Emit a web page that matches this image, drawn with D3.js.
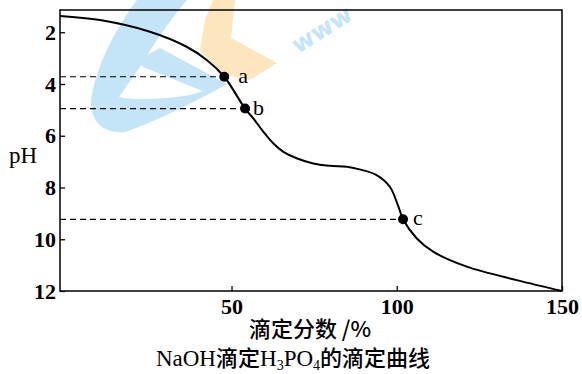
<!DOCTYPE html>
<html>
<head>
<meta charset="utf-8">
<script src="https://cdn.jsdelivr.net/npm/d3@7"></script>
<style>
  body { margin: 0; background: #fff; }
  svg { display: block; }
</style>
</head>
<body>
<div id="chart"></div>
<script>
// titration curve (x = % titrated, y = pH)
const fraction = [-1.9, 10.2, 25.3, 36.4, 42.5, 47.8, 54.1, 56.6, 59.6, 62.6, 65.7, 69.7, 74.7, 79.8, 84.9, 88.4, 93.9, 97.9, 100.5, 101.9, 106.0, 111.0, 121.2, 136.3, 150];
const pH = [1.37, 1.53, 1.98, 2.56, 3.07, 3.72, 4.95, 5.33, 5.84, 6.29, 6.62, 6.87, 7.07, 7.16, 7.20, 7.29, 7.52, 7.97, 8.74, 9.23, 9.96, 10.48, 11.06, 11.58, 12];

// marked points
const markNames = ['a', 'b', 'c'];
const markX = [47.8, 54.1, 101.9];
const markPH = [3.72, 4.95, 9.23];

const xTicks = [50, 100, 150];
const yTicks = [2, 4, 6, 8, 10, 12];

const xTitle = '滴定分数 /%';
const yTitle = 'pH';

const W = 582, H = 374;
const margin = { top: 10, right: 20, bottom: 83, left: 60 };

const svg = d3.select('#chart').append('svg')
  .attr('width', W)
  .attr('height', H);

// watermark behind the chart
const wm = svg.append('g');
wm.append('path')
  .attr('d', 'M137,0 C118,25 96,65 91,100 C90,122 104,134 125,132 C160,120 200,99 227,84 L190,95 C165,99 138,101 119,97 L142,64 C155,42 170,20 187,0 Z')
  .attr('fill', '#c4e4f7');
wm.append('path')
  .attr('d', 'M138,60 L160,48 L227,84 L205,92 L143,67 Z')
  .attr('fill', '#c4e4f7');
wm.append('path')
  .attr('d', 'M213,0 L235,0 L231,38 L277,63 L250,80 L222,74 L200,50 L205,20 Z')
  .attr('fill', '#fde5bd');
wm.append('text')
  .attr('transform', 'translate(298,54) rotate(-32)')
  .attr('font-family', 'DejaVu Sans')
  .attr('font-weight', 'bold')
  .attr('font-size', 24)
  .attr('fill', '#c4e4f7')
  .text('www');

const g = svg.append('g')
  .attr('transform', `translate(${margin.left},${margin.top})`);

const width = W - margin.left - margin.right;
const height = H - margin.top - margin.bottom;

const x = d3.scaleLinear().domain([-1.9, 150]).range([0, width]);
const y = d3.scaleLinear().domain([1.14, 12]).range([0, height]);

const serif = 'Liberation Serif, Times New Roman, serif';

// axes (ticks point inward)
const xAxis = g.append('g')
  .attr('transform', `translate(0,${height})`)
  .call(d3.axisBottom(x).tickValues(xTicks).tickSizeInner(-5).tickSizeOuter(0).tickPadding(7));
const yAxis = g.append('g')
  .call(d3.axisLeft(y).tickValues(yTicks).tickSizeInner(-5).tickSizeOuter(0).tickPadding(4));

[xAxis, yAxis].forEach(a => {
  a.select('.domain').remove();
  a.selectAll('line').attr('stroke', '#000').attr('stroke-width', 1.3);
  a.selectAll('text')
    .attr('font-family', serif)
    .attr('font-size', 22)
    .attr('font-weight', 'bold')
    .attr('fill', '#000');
});

// frame
g.append('rect')
  .attr('width', width)
  .attr('height', height)
  .attr('fill', 'none')
  .attr('stroke', '#000')
  .attr('stroke-width', 1.5);

// dashed guides
g.selectAll('.guide')
  .data(markNames)
  .enter().append('line')
  .attr('x1', 0)
  .attr('x2', (d, i) => x(markX[i]))
  .attr('y1', (d, i) => y(markPH[i]))
  .attr('y2', (d, i) => y(markPH[i]))
  .attr('stroke', '#000')
  .attr('stroke-width', 1.2)
  .attr('stroke-dasharray', '6,4');

// curve
const line = d3.line()
  .x(d => x(d[0]))
  .y(d => y(d[1]))
  .curve(d3.curveCatmullRom.alpha(0.5));

g.append('path')
  .datum(fraction.map((f, i) => [f, pH[i]]))
  .attr('fill', 'none')
  .attr('stroke', '#000')
  .attr('stroke-width', 2)
  .attr('d', line);

// points and labels
const labelDx = [14, 8, 10];
g.selectAll('.dot')
  .data(markNames)
  .enter().append('circle')
  .attr('cx', (d, i) => x(markX[i]))
  .attr('cy', (d, i) => y(markPH[i]))
  .attr('r', 5)
  .attr('fill', '#000');

g.selectAll('.lbl')
  .data(markNames)
  .enter().append('text')
  .attr('x', (d, i) => x(markX[i]) + labelDx[i])
  .attr('y', (d, i) => y(markPH[i]) + 6)
  .attr('font-family', serif)
  .attr('font-size', 22)
  .text(d => d);

// axis titles
svg.append('text')
  .attr('x', 23)
  .attr('y', 163)
  .attr('text-anchor', 'middle')
  .attr('font-family', serif)
  .attr('font-size', 23)
  .text(yTitle);

svg.append('text')
  .attr('x', 310)
  .attr('y', 337)
  .attr('text-anchor', 'middle')
  .attr('font-family', 'Noto Sans CJK SC')
  .attr('font-size', 22)
  .attr('font-weight', 500)
  .text(xTitle);

// caption with subscripts
const cjk = 'Noto Sans CJK SC';
const cap = svg.append('text')
  .attr('x', 293)
  .attr('y', 366)
  .attr('text-anchor', 'middle')
  .attr('font-family', serif)
  .attr('font-size', 23);
cap.append('tspan').text('NaOH');
cap.append('tspan').attr('font-family', cjk).attr('font-size', 22).attr('font-weight', 500).text('滴定');
cap.append('tspan').text('H');
cap.append('tspan').attr('font-size', 14).attr('dy', 4).text('3');
cap.append('tspan').attr('dy', -4).text('PO');
cap.append('tspan').attr('font-size', 14).attr('dy', 4).text('4');
cap.append('tspan').attr('dy', -4).attr('font-family', cjk).attr('font-size', 22).attr('font-weight', 500).text('的滴定曲线');
</script>
</body>
</html>
